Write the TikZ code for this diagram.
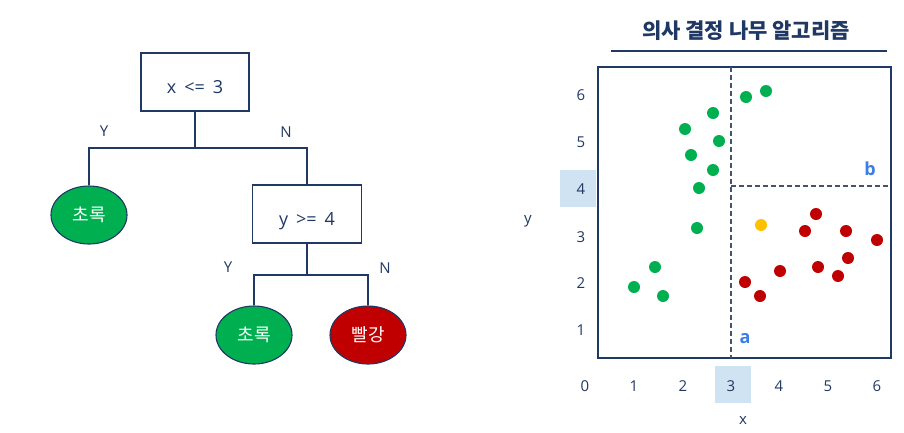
\documentclass[tikz,border=0pt]{standalone}
\usepackage{fontspec}
\setmainfont{Open Sans}
\newfontfamily\kor{Noto Sans CJK KR}
\usetikzlibrary{shapes.geometric}
\definecolor{navy}{HTML}{203864}
\definecolor{leafgreen}{HTML}{00B050}
\definecolor{leafred}{HTML}{C00000}
\definecolor{dotyellow}{HTML}{FFC000}
\definecolor{cutgray}{HTML}{44546A}
\definecolor{cutblue}{HTML}{3B7DEB}
\definecolor{markblue}{HTML}{D0E3F3}

\begin{document}
\begin{tikzpicture}[x=1pt,y=-1pt,
  test/.style={rectangle,draw=navy,line width=1.1pt,minimum width=108pt,
    minimum height=58pt,text height=23pt,text depth=0pt,text=navy,
    font=\fontsize{18}{20}\selectfont},
  leaf/.style={ellipse,draw=navy,line width=1.1pt,minimum width=76pt,
    minimum height=58pt,inner sep=0pt,text=white,font=\kor\fontsize{18}{20}\selectfont},
  branch/.style={text=navy,font=\fontsize{15}{17}\selectfont},
  link/.style={draw=navy,line width=1.1pt},
  ticklbl/.style={text=navy,font=\fontsize{15}{17}\selectfont},
  cut/.style={draw=cutgray,line width=1.4pt,dash pattern=on 5pt off 3pt},
  cutname/.style={text=cutblue,font=\bfseries\fontsize{18}{20}\selectfont}]
\useasboundingbox (0,0) rectangle (904,432);

% decision tree
\node[test] (root) at (195,82) {x\hspace{8pt}<=\hspace{8pt}3};
\node[leaf,fill=leafgreen] (g1) at (89,215) {초록};
\node[test,minimum width=109pt] (test2) at (307,214) {y\hspace{8pt}>=\hspace{8pt}4};
\node[leaf,fill=leafgreen] (g2) at (254,335) {초록};
\node[leaf,fill=leafred] (r1) at (368,335) {빨강};
\coordinate (split1) at (195,148);
\coordinate (split2) at (307,275);
\draw[link] (root.south) -- (split1) -| (g1.north);
\draw[link] (split1) -| (test2.north);
\draw[link] (test2.south) -- (split2) -| (g2.north);
\draw[link] (split2) -| (r1.north);
\node[branch] (y1) at (104,131) {Y};
\node[branch] (n1) at (286,132) {N};
\node[branch] (y2) at (228,267) {Y};
\node[branch] (n2) at (385,268) {N};

% scatter plot
\node[text=navy,font=\kor\bfseries\fontsize{21}{23}\selectfont] (title) at (746,31) {의사 결정 나무 알고리즘};
\draw[navy,line width=1.1pt] (611,51) -- (887,51);
\fill[markblue] (560,170) rectangle (596,207);
\fill[markblue] (715,366) rectangle (751,403);
\draw[navy,line width=1.1pt] (598,67) rectangle (891,358);
\draw[cut] (731,67) -- (731,358);
\draw[cut] (731,186) -- (891,186);
\node[cutname] (cuta) at (745,339) {a};
\node[cutname] (cutb) at (870,169) {b};
\foreach \n/\px in {0/585,1/634,2/683,3/731,4/779,5/828,6/877}
  \node[ticklbl] at (\px,386) {\n};
\foreach \n/\py in {1/330,2/283,3/237,4/189,5/142,6/95}
  \node[ticklbl] at (581,\py) {\n};
\node[ticklbl] (xname) at (743,420) {x};
\node[ticklbl] (yname) at (528,221) {y};
\foreach \px/\py in {746/97,766/91,713/113,685/129,719/141,691/155,713/170,
    699/188,697/228,655/267,634/287,663/296}
  \fill[leafgreen] (\px,\py) circle (6pt);
\foreach \px/\py in {816/214,805/231,846/231,877/240,848/258,818/267,838/276,
    780/271,745/282,760/296}
  \fill[leafred] (\px,\py) circle (6pt);
\fill[dotyellow] (761,225) circle (6pt);
\end{tikzpicture}
\end{document}
